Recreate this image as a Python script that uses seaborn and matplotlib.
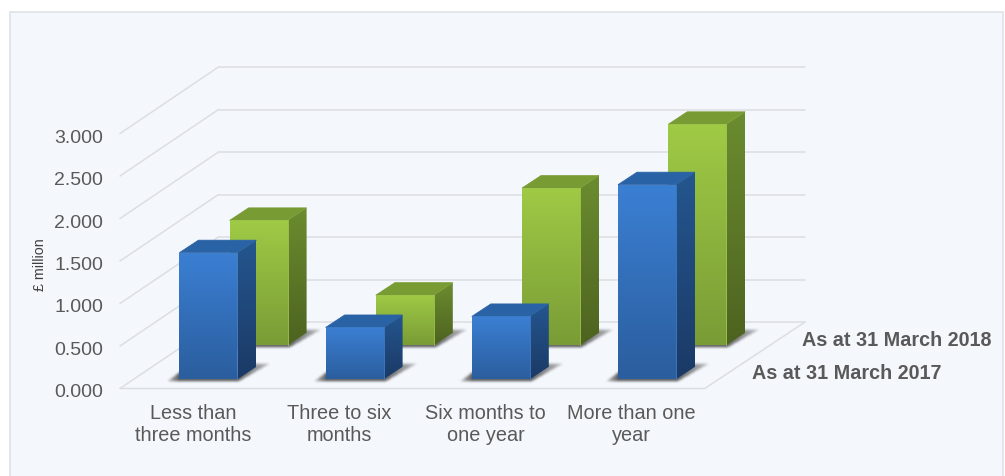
import numpy as np
import matplotlib
matplotlib.use("Agg")
import matplotlib.pyplot as plt
from matplotlib.colors import LinearSegmentedColormap
from matplotlib.patches import Polygon, Rectangle
from matplotlib.path import Path
from matplotlib.transforms import ScaledTranslation
import seaborn as sns

categories = ["Less than three months", "Three to six months", "Six months to one year", "More than one year"]
tick_labels = ["Less than\nthree months", "Three to six\nmonths", "Six months to\none year", "More than one\nyear"]
values_2017 = [1.49, 0.61, 0.74, 2.29]
values_2018 = [1.47, 0.59, 1.85, 2.60]
y_ticks = [0, 0.5, 1, 1.5, 2, 2.5, 3]

W, H = 1005, 477
CAT = 146.2   # px per category
UNIT = 85.0   # px per y unit

sns.set_theme(style="white")
plt.rcParams["font.family"] = ["Liberation Sans", "DejaVu Sans"]

fig = plt.figure(figsize=(W / 100, H / 100), dpi=100, facecolor="white")


def axes_at(left, baseline, width=4 * CAT, height=3 * UNIT):
    ax = fig.add_axes([left / W, 1 - baseline / H, width / W, height / H])
    ax.patch.set_visible(False)
    ax.set_xlim(-0.5, 3.5)
    ax.set_ylim(0, 3)
    return ax


def gradient(ax, verts, top, bottom, z):
    verts = np.array(verts)
    cmap = LinearSegmentedColormap.from_list("g", [top, bottom])
    ext = [verts[:, 0].min(), verts[:, 0].max(), verts[:, 1].min(), verts[:, 1].max()]
    im = ax.imshow(np.linspace(0, 1, 64).reshape(-1, 1), extent=ext, aspect="auto",
                   cmap=cmap, zorder=z, origin="upper", interpolation="bilinear")
    im.set_clip_path(Polygon(verts, transform=ax.transData, fc="none", ec="none"))


def floor_shadow(ax, x0, w_px):
    # blurred shape in px around the bar foot, then placed with the axes scales
    shape = [(-13, -3), (w_px + 1, -3), (w_px + 32, 15), (w_px + 17, 15), (w_px, 4), (2, 8)]
    xs = np.arange(-20, w_px + 42)
    ys = np.arange(-10, 24)
    gx, gy = np.meshgrid(xs, ys)
    mask = Path(shape).contains_points(np.c_[gx.ravel(), gy.ravel()]).reshape(gx.shape).astype(float)
    kernel = np.array([1, 2, 3, 2, 1]) / 9
    for axis in (0, 1):
        mask = np.apply_along_axis(lambda r: np.convolve(r, kernel, mode="same"), axis, mask)
    fade = np.where(gx > w_px, 1 - 0.6 * (gx - w_px) / 32, 1.0)
    fade = np.where(gx < 0, 1 + 0.7 * gx / 13, fade)
    rgba = np.zeros(mask.shape + (4,))
    rgba[..., :3] = 0.27
    rgba[..., 3] = np.clip(mask * fade * 0.85, 0, 1)
    ext = [x0 + xs[0] / CAT, x0 + xs[-1] / CAT, ys[0] / UNIT, ys[-1] / UNIT]
    ax.imshow(rgba, extent=ext, origin="lower", aspect="auto", zorder=1, clip_on=False,
              interpolation="bilinear")


def draw_series(left, baseline, values, cols):
    ax = axes_at(left, baseline)
    sns.barplot(x=categories, y=values, ax=ax, color=cols["front"][0], width=58 / CAT,
                saturation=1, legend=False)
    ax.set_xlim(-0.5, 3.5)
    ax.set_ylim(0, 3)
    ax.axis("off")
    dx, dy = 19 / CAT, 12.5 / UNIT
    for bar in list(ax.patches):
        x0, w, h = bar.get_x(), bar.get_width(), bar.get_height()
        x1 = x0 + w
        bar.set_visible(False)
        floor_shadow(ax, x0, w * CAT)
        gradient(ax, [(x0, 0), (x1, 0), (x1, h), (x0, h)], cols["front"][0], cols["front"][1], 3)
        gradient(ax, [(x1, 0), (x1 + dx, dy), (x1 + dx, h + dy), (x1, h)], cols["side"][0], cols["side"][1], 3)
        ax.add_patch(Polygon([(x0, h), (x1, h), (x1 + dx, h + dy), (x0 + dx, h + dy)],
                             fc=cols["top"], ec=cols["top"], lw=0.5, zorder=4, clip_on=False))
        ax.plot([x1, x1], [0, h], color=cols["edge"], lw=0.6, zorder=5, clip_on=False)
        ax.plot([x0, x1], [h, h], color=cols["edge"], lw=0.6, zorder=5, clip_on=False)
    ax.set_xlim(-0.5, 3.5)
    ax.set_ylim(0, 3)
    return ax


# panel behind everything
bg = fig.add_axes([0, 0, 1, 1])
bg.set_xlim(0, W)
bg.set_ylim(H, 0)
bg.axis("off")
bg.add_patch(Rectangle((9.5, 12.5), 993, 480, fc="#f4f7fc", ec="#dfe2e6", lw=1.2))

# floor, walls and the axis text
ax_wall = axes_at(120, 389.5)
sns.despine(ax=ax_wall, left=True, bottom=True)
depth_x, depth_y = 98.5 / CAT, 66.5 / UNIT
grid_col = "#dcdee1"
wall_end = -0.5 + 685 / CAT
for v in y_ticks:
    ax_wall.plot([-0.5, -0.5 + depth_x], [v, v + depth_y], color=grid_col, lw=1.1, clip_on=False)
    ax_wall.plot([-0.5 + depth_x, wall_end], [v + depth_y, v + depth_y], color=grid_col, lw=1.1, clip_on=False)
ax_wall.plot([-0.5, 3.5, wall_end], [0, 0, depth_y], color=grid_col, lw=1.1, clip_on=False)
ax_wall.set_yticks(y_ticks)
ax_wall.set_yticklabels([f"{v:.3f}" for v in y_ticks], fontsize=14, color="#595959")
ax_wall.set_xticks(range(4))
ax_wall.set_xticklabels(tick_labels, fontsize=14.3, color="#595959", linespacing=1.2)
ax_wall.tick_params(axis="both", length=0)
ax_wall.tick_params(axis="y", pad=12)
ax_wall.tick_params(axis="x", pad=10.5)
down = ScaledTranslation(0, -1.5 / 100, fig.dpi_scale_trans)
for label in ax_wall.get_yticklabels():
    label.set_transform(label.get_transform() + down)
ax_wall.set_ylabel("£ million", fontsize=10.3, color="#404040")
ax_wall.yaxis.set_label_coords(-73 / (4 * CAT), 0.49)

green = {"front": ("#9fca45", "#7a9c36"), "side": ("#6b8c2f", "#4d6320"), "top": "#789c33", "edge": "#a2c94e"}
blue = {"front": ("#3b7fd3", "#2b5e9e"), "side": ("#24568f", "#1b3a66"), "top": "#2a62a6", "edge": "#3f7fcc"}

draw_series(185.5, 346.3, values_2018, green)
draw_series(135.3, 380.3, values_2017, blue)

fig.text(991 / W, 1 - 340.5 / H, "As at 31 March 2018", ha="right", va="center", fontsize=14.2,
         fontweight="bold", color="#595959")
fig.text(941 / W, 1 - 374 / H, "As at 31 March 2017", ha="right", va="center", fontsize=14.2,
         fontweight="bold", color="#595959")

fig.savefig("out.png", dpi=100)
